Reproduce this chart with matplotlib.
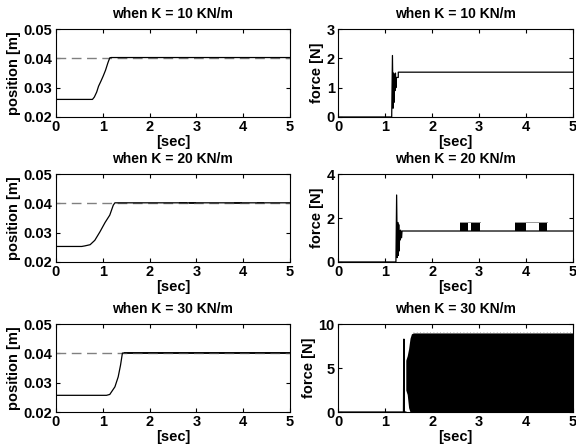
import matplotlib
matplotlib.use("Agg")
import matplotlib.pyplot as plt
import numpy as np

plt.rcParams['font.family'] = ['Liberation Sans', 'DejaVu Sans']
plt.rcParams['font.weight'] = 'bold'

T_END = 5.0
REF = 0.04
titles = ["when K = 10 KN/m", "when K = 20 KN/m", "when K = 30 KN/m"]

# position responses (time, position)
pos10_t = [0, 0.78, 0.82, 0.87, 0.91, 0.96, 1.01, 1.06, 1.11, 1.15, 1.18, 5]
pos10_y = [0.0260, 0.0260, 0.0268, 0.0285, 0.0305, 0.0322, 0.0340, 0.0360, 0.0385, 0.0402, 0.0403, 0.0403]
pos20_t = [0, 0.55, 0.62, 0.73, 0.83, 0.94, 1.05, 1.15, 1.225, 1.26, 1.3, 5]
pos20_y = [0.0253, 0.0253, 0.0255, 0.0259, 0.0274, 0.0303, 0.0335, 0.0360, 0.0394, 0.0402, 0.0402, 0.0402]
pos30_t = [0, 1.08, 1.15, 1.26, 1.33, 1.38, 1.42, 1.46, 5]
pos30_y = [0.0257, 0.0257, 0.0260, 0.0286, 0.0320, 0.0360, 0.0401, 0.0402, 0.0402]
# small chatter bands on position (t0, t1, low, high)
pos20_chatter = [(2.62, 2.80, 0.0398, 0.0405), (2.85, 3.0, 0.0398, 0.0405),
                 (3.80, 3.98, 0.0398, 0.0405), (4.30, 4.45, 0.0398, 0.0405)]
pos30_band = (1.45, 5.0, 0.0397, 0.0406)

# force responses (time, force)
f10_t = [0, 1.12, 1.14, 1.156, 1.17, 1.18, 1.19, 1.20, 1.21, 1.22, 1.23, 1.24, 1.28, 1.28, 5]
f10_y = [0, 0, 0, 2.1, 0.3, 1.5, 0.5, 1.45, 0.9, 1.5, 1.0, 1.35, 1.35, 1.53, 1.53]
f20_t = [0, 1.23, 1.245, 1.26, 1.27, 1.28, 1.29, 1.30, 1.31, 1.32, 1.33, 1.35, 1.36, 5]
f20_y = [0, 0, 3.05, 0.2, 1.8, 0.3, 1.7, 0.5, 1.4, 1.0, 1.45, 1.1, 1.41, 1.41]
f20_blocks = [(2.60, 2.77), (2.83, 3.01), (3.76, 3.99), (4.27, 4.45)]
f20_block_lo, f20_block_hi = 1.41, 1.82
f30_t = [0, 1.39, 1.40, 1.41, 1.44]
f30_y = [0, 0, 8.3, 0, 0]
# envelope of the high-frequency chattering force
f30_env_t = [1.44, 1.47, 1.50, 1.53, 1.56, 1.60, 5.0]
f30_env_hi = [5.9, 6.4, 7.2, 8.4, 8.9, 9.0, 9.0]
f30_env_lo = [2.5, 2.0, 0.5, 0, 0, 0, 0]

fig = plt.figure(figsize=(5.76, 4.46), dpi=100)
L = [0.0972, 0.587]
W = [0.406, 0.408]
B = [0.7377, 0.4126, 0.0762]
H = 0.197


def style(ax, ylim, yticks, ylabel, title):
    ax.set_xlim(0, T_END)
    ax.set_ylim(*ylim)
    ax.set_xticks([0, 1, 2, 3, 4, 5])
    ax.set_yticks(yticks)
    ax.tick_params(direction='in', top=True, right=True, length=3, width=0.8,
                   labelsize=10.5, pad=2.5)
    for lab in ax.get_xticklabels() + ax.get_yticklabels():
        lab.set_fontweight('bold')
    for s in ax.spines.values():
        s.set_linewidth(0.8)
    ax.set_xlabel('[sec]', fontsize=10.5, fontweight='bold', labelpad=0.5)
    ax.set_ylabel(ylabel, fontsize=10.5, fontweight='bold', labelpad=2)
    ax.set_title(title, fontsize=10, fontweight='bold', pad=8)


pos_data = [(pos10_t, pos10_y), (pos20_t, pos20_y), (pos30_t, pos30_y)]
for i in range(3):
    ax = fig.add_axes([L[0], B[i], W[0], H])
    ax.plot([0, T_END], [REF, REF], color='#808080', lw=1.0, dashes=(7, 4))
    t, y = pos_data[i]
    ax.plot(t, y, color='black', lw=0.9)
    if i == 1:
        for (a, b, lo, hi) in pos20_chatter:
            ax.fill_between([a, b], [lo, lo], [hi, hi], color='#333333', lw=0)
    if i == 2:
        a, b, lo, hi = pos30_band
        ax.fill_between([a, b], [lo, lo], [hi, hi], color='#222222', lw=0)
    style(ax, (0.02, 0.05), [0.02, 0.03, 0.04, 0.05], 'position [m]', titles[i])
    ax.set_yticklabels(['0.02', '0.03', '0.04', '0.05'], fontweight='bold')

# force K=10
ax = fig.add_axes([L[1], B[0], W[1], H])
ax.plot(f10_t, f10_y, color='black', lw=0.9)
style(ax, (0, 3), [0, 1, 2, 3], 'force [N]', titles[0])

# force K=20
ax = fig.add_axes([L[1], B[1], W[1], H])
ax.plot(f20_t, f20_y, color='black', lw=0.9)
for (a, b) in f20_blocks:
    ax.fill_between([a, b], [f20_block_lo] * 2, [f20_block_hi] * 2, color='black', lw=0)
for k in range(0, len(f20_blocks), 2):
    ax.plot([f20_blocks[k][0], f20_blocks[k + 1][1]], [f20_block_hi] * 2,
            color='#999999', lw=0.7)
style(ax, (0, 4), [0, 2, 4], 'force [N]', titles[1])

# force K=30
ax = fig.add_axes([L[1], B[2], W[1], H])
ax.plot(f30_t, f30_y, color='black', lw=0.9)
ax.fill_between(f30_env_t, f30_env_lo, f30_env_hi, color='black', lw=0)
ax.plot([1.6, T_END], [9.15, 9.15], color='#aaaaaa', lw=0.6, dashes=(1, 3))
style(ax, (0, 10), [0, 5, 10], 'force [N]', titles[2])

fig.savefig('out.png', dpi=100)
